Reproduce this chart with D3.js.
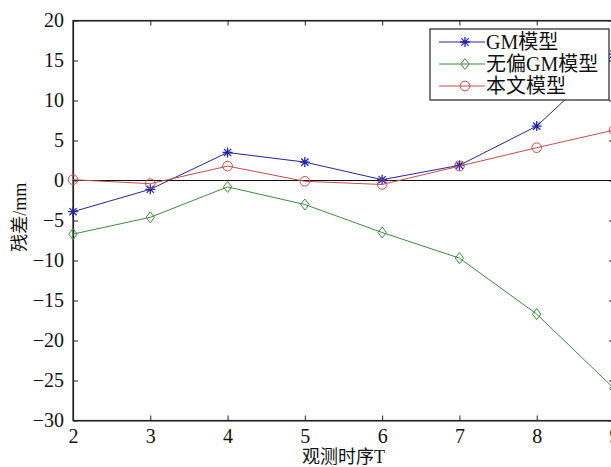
<!DOCTYPE html>
<meta charset="utf-8">
<title>残差</title>
<script src="https://d3js.org/d3.v7.min.js"></script>
<style>
  body { margin: 0; background: #fff; }
  text { font-family: "Liberation Serif", "Times New Roman", "Noto Sans CJK SC", serif; }
</style>
<body>
<div id="chart"></div>
<script>
// observation index and residuals (mm)
var steps = [2, 3, 4, 5, 6, 7, 8, 9];
var gmVals = [-3.9, -1.1, 3.5, 2.3, 0.1, 1.9, 6.8, 15.8];
var unbiasedVals = [-6.7, -4.6, -0.8, -3.0, -6.5, -9.7, -16.7, -26.0];
var oursVals = [0.1, -0.4, 1.8, -0.1, -0.5, 1.8, 4.1, 6.3];
var seriesNames = ["GM模型", "无偏GM模型", "本文模型"];
var xTicks = [2, 3, 4, 5, 6, 7, 8, 9];
var yTicks = [-30, -25, -20, -15, -10, -5, 0, 5, 10, 15, 20];

var W = 611, H = 467;
var margin = { top: 20.5, right: -3, bottom: 46.5, left: 73 },
    width = W - margin.left - margin.right,
    height = H - margin.top - margin.bottom;

var svg = d3.select("#chart").append("svg")
    .attr("width", W).attr("height", H)
    .style("display", "block");
var g = svg.append("g")
    .attr("transform", "translate(" + margin.left + "," + margin.top + ")");

var x = d3.scaleLinear().domain([2, 9]).range([0, width]);
var y = d3.scaleLinear().domain([-30, 20]).range([height, 0]);

var axisColor = "#222";
var serif = "'Liberation Serif', 'Times New Roman', serif";

// box
g.append("rect").attr("width", width).attr("height", height)
    .attr("fill", "none").attr("stroke", axisColor).attr("stroke-width", 1.2);

// axes (ticks inward)
g.append("g").attr("transform", "translate(0," + height + ")")
    .call(d3.axisBottom(x).tickValues(xTicks).tickSizeInner(-5).tickSizeOuter(0).tickPadding(8)
      .tickFormat(d3.format("d")));
g.append("g")
    .call(d3.axisLeft(y).tickValues(yTicks).tickSizeInner(-5).tickSizeOuter(0).tickPadding(9)
      .tickFormat(function (d) { return d < 0 ? "\u2212" + Math.abs(d) : d; }));
g.append("g")
    .call(d3.axisTop(x).tickValues(xTicks).tickSizeInner(-5).tickSizeOuter(0).tickFormat(""));
g.append("g").attr("transform", "translate(" + width + ",0)")
    .call(d3.axisRight(y).tickValues(yTicks).tickSizeInner(-5).tickSizeOuter(0).tickFormat(""));
g.selectAll(".domain").attr("stroke", axisColor).attr("stroke-width", 1.2);
g.selectAll(".tick line").attr("stroke", axisColor);
g.selectAll(".tick text").attr("fill", "#111").style("font-size", "20px")
    .style("font-family", serif);

// zero line
g.append("line").attr("x1", 0).attr("x2", width)
    .attr("y1", y(0)).attr("y2", y(0))
    .attr("stroke", "#111").attr("stroke-width", 1.2);

var colors = ["#2424a8", "#3c8c3c", "#c84a4a"];
var allVals = [gmVals, unbiasedVals, oursVals];

var line = d3.line()
    .x(function (d, i) { return x(steps[i]); })
    .y(function (d) { return y(d); });

function drawMarker(sel, type, color) {
  if (type === 0) {
    sel.append("path")
      .attr("d", "M-5,0L5,0M0,-5L0,5M-3.6,-3.6L3.6,3.6M-3.6,3.6L3.6,-3.6")
      .attr("stroke", color).attr("stroke-width", 1.3).attr("fill", "none");
  } else if (type === 1) {
    sel.append("path").attr("d", "M0,-5.5L4.2,0L0,5.5L-4.2,0Z")
      .attr("stroke", color).attr("stroke-width", 1).attr("fill", "none");
  } else {
    sel.append("circle").attr("r", 4.8)
      .attr("stroke", color).attr("stroke-width", 1).attr("fill", "none");
  }
}

var plot = g.append("g");
allVals.forEach(function (vals, k) {
  plot.append("path").datum(vals)
    .attr("d", line).attr("fill", "none")
    .attr("stroke", colors[k]).attr("stroke-width", 1);
  vals.forEach(function (v, i) {
    var m = plot.append("g")
      .attr("transform", "translate(" + x(steps[i]) + "," + y(v) + ")");
    drawMarker(m, k, colors[k]);
  });
});

// legend
var lg = svg.append("g").attr("transform", "translate(430,29)");
lg.append("rect").attr("width", 179).attr("height", 71)
    .attr("fill", "#fff").attr("stroke", axisColor).attr("stroke-width", 1.2);
seriesNames.forEach(function (name, k) {
  var yy = 13 + k * 22;
  lg.append("line").attr("x1", 9).attr("x2", 55).attr("y1", yy).attr("y2", yy)
    .attr("stroke", colors[k]).attr("stroke-width", 1);
  var m = lg.append("g").attr("transform", "translate(35," + yy + ")");
  drawMarker(m, k, colors[k]);
  lg.append("text").attr("x", 56).attr("y", yy).attr("dy", "0.35em")
    .style("font-size", "20px").attr("fill", "#111").text(name);
});

// axis titles
svg.append("text")
    .attr("x", margin.left + x(5.5)).attr("y", 463)
    .attr("text-anchor", "middle").style("font-size", "18px").attr("fill", "#111")
    .text("观测时序T");
svg.append("text")
    .attr("transform", "translate(26," + (margin.top + y(-4.6)) + ") rotate(-90)")
    .attr("text-anchor", "middle").style("font-size", "18px").attr("fill", "#111")
    .text("残差/mm");
</script>
</body>
